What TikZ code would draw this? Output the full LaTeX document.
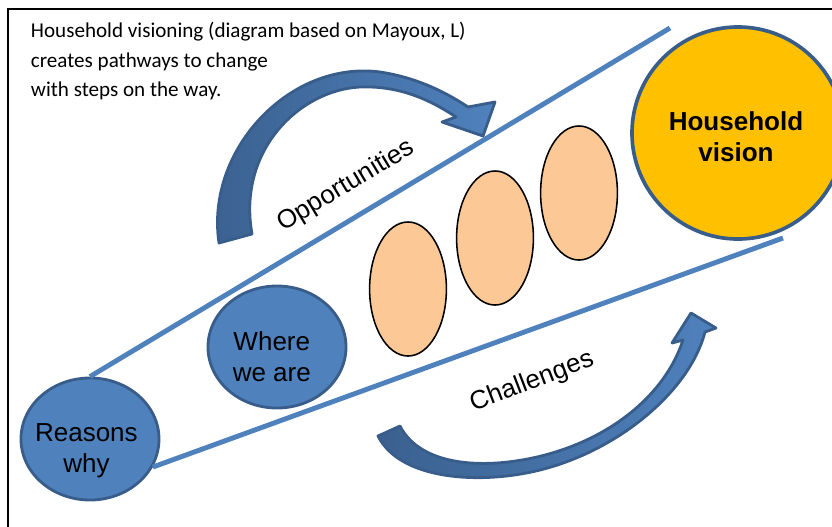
\documentclass[tikz,border=0pt]{standalone}
\usepackage{fontspec}
\setmainfont{Liberation Sans}
\newfontfamily\calibri{Carlito}
\usetikzlibrary{shapes.geometric}
\definecolor{fillblue}{HTML}{4F81BD}
\definecolor{edgeblue}{HTML}{385D8A}
\definecolor{peach}{HTML}{FCC896}
\definecolor{gold}{HTML}{FFC000}

\begin{document}
\begin{tikzpicture}[x=0.025cm,y=-0.025cm,
  bigfont/.style={font=\fontsize{18.5}{22}\selectfont},
  bluecirc/.style={ellipse,draw=edgeblue,line width=2pt,fill=fillblue,minimum width=3.45cm,minimum height=3.05cm},
  circtext/.style={align=center,inner sep=0pt,bigfont},
  stepegg/.style={ellipse,draw=black,line width=1.1pt,fill=peach,minimum width=1.92cm,minimum height=3.35cm},
  pathline/.style={fillblue,line width=3.5pt},
  bentarrow/.style={draw=edgeblue,line width=2pt,line join=round,left color=edgeblue!90!fillblue,right color=fillblue}]
\useasboundingbox (0,0) rectangle (832,526);
\clip (0,0) rectangle (832,526);
\draw[line width=0.8pt] (8,560) -- (8,9) -- (860,9);

\node[anchor=west,align=left,font=\calibri\fontsize{15}{21.2}\selectfont] (title) at (26,61)
  {Household visioning (diagram based on Mayoux, L)\\creates pathways to change\\with steps on the way.};

\node[bluecirc] (reasons) at (90,439) {};
\node[circtext] (reasonstext) at ([xshift=-0.09cm,yshift=-0.3cm]reasons.center) {Reasons\\why};
\node[bluecirc] (where) at (277,347) {};
\node[circtext] (wheretext) at ([xshift=-0.13cm,yshift=-0.25cm]where.center) {Where\\we are};
\node[stepegg] (step1) at (408,289) {};
\node[stepegg] (step2) at (495,238) {};
\node[stepegg] (step3) at (579,193) {};
\node[circle,draw=edgeblue,line width=2.6pt,fill=gold,minimum size=5.3cm] (vision) at (738,133) {};
\node[circtext,font=\bfseries\fontsize{18.5}{22}\selectfont] (visiontext) at ([xshift=-0.05cm,yshift=-0.1cm]vision.center) {Household\\vision};

\coordinate (upend) at (670,28);
\coordinate (lowend) at (783,238);
\draw[pathline] (reasons.north) -- (upend);
\draw[pathline] (reasons.-24) -- (lowend);

% arrow over the top
\path[bentarrow] (219,243) .. controls (205,150) and (290,60) .. (380,72)
  .. controls (420,78) and (450,95) .. (468,107) -- (495,102) -- (483,136) -- (442,122) -- (456,117)
  .. controls (420,93) and (390,86) .. (360,87) .. controls (300,90) and (237,150) .. (252,234) -- cycle;
\node[bigfont,rotate=31] (opp) at (346,186) {Opportunities};

% arrow underneath
\path[bentarrow] (378,436) .. controls (400,480) and (480,485) .. (540,470)
  .. controls (620,450) and (690,390) .. (705,332) -- (716,328) -- (691,313) -- (672,343) -- (683,340)
  .. controls (665,395) and (610,440) .. (537,457) .. controls (480,470) and (420,465) .. (400,426) -- cycle;
\node[bigfont,rotate=21] (chal) at (532,382) {Challenges};
\end{tikzpicture}
\end{document}
